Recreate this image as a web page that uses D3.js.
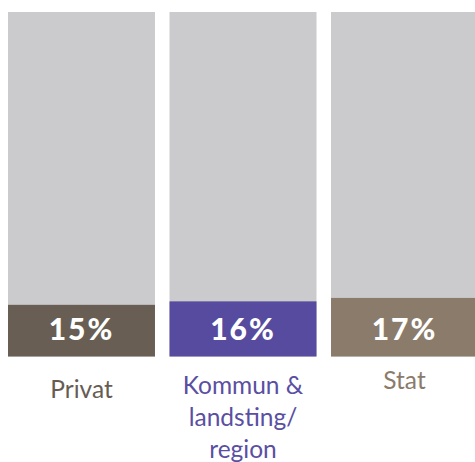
<!DOCTYPE html>
<html>
<head>
<meta charset="utf-8">
<script src="https://cdn.jsdelivr.net/npm/d3@7"></script>
<style>
  body { margin: 0; background: #fff; }
  svg { display: block; }
</style>
</head>
<body>
<div id="wrapper"></div>
<script>
const categories = ["Privat", "Kommun & landsting/ region", "Stat"]
const labelLines = [["Privat"], ["Kommun &", "landsting/", "region"], ["Stat"]]
const shares = [0.15, 0.16, 0.17]
const valueLabels = ["15%", "16%", "17%"]
const barColors = ["#685e54", "#564b9e", "#8b7b6b"]
const textColors = ["#665c53", "#5a4fa2", "#8b7b6b"]

let dimensions = {
  width: 475,
  height: 462,
  margin: { top: 12, right: -3, bottom: 105.5, left: 8 }
}
dimensions.boundedWidth = dimensions.width
  - dimensions.margin.left
  - dimensions.margin.right
dimensions.boundedHeight = dimensions.height
  - dimensions.margin.top
  - dimensions.margin.bottom

const wrapper = d3.select("#wrapper")
  .append("svg")
    .attr("width", dimensions.width)
    .attr("height", dimensions.height)
const bounds = wrapper.append("g")
  .attr("transform", `translate(${dimensions.margin.left},${dimensions.margin.top})`)

const xScale = d3.scaleBand()
  .domain(categories)
  .range([0, dimensions.boundedWidth])
  .paddingInner(0.09)
  .paddingOuter(0)

const yScale = d3.scaleLinear()
  .domain([0, 1])
  .range([dimensions.boundedHeight, 0])

const groups = bounds.selectAll("g.bar")
  .data(categories)
  .join("g")
    .attr("class", "bar")
    .attr("transform", d => `translate(${xScale(d)},0)`)

// full-height background column
groups.append("rect")
  .attr("y", yScale(1))
  .attr("width", xScale.bandwidth())
  .attr("height", yScale(0) - yScale(1))
  .attr("fill", "#cbcbcd")

groups.append("rect")
  .attr("y", (d, i) => yScale(shares[i]))
  .attr("width", xScale.bandwidth())
  .attr("height", (d, i) => yScale(0) - yScale(shares[i]))
  .attr("fill", (d, i) => barColors[i])

groups.append("text")
  .attr("x", xScale.bandwidth() / 2)
  .attr("y", dimensions.boundedHeight - 17)
  .attr("text-anchor", "middle")
  .attr("fill", "#fff")
  .style("font-family", "Lato, sans-serif")
  .style("font-weight", "900")
  .style("font-size", "30px")
  .style("letter-spacing", "2px")
  .text((d, i) => valueLabels[i])

// baseline of first label line, relative to the bar bottom
const labelTop = [41, 37, 32]
groups.append("text")
  .attr("text-anchor", "middle")
  .attr("fill", (d, i) => textColors[i])
  .style("font-family", "Lato, sans-serif")
  .style("font-size", "24.5px")
  .each(function (d, i) {
    d3.select(this).selectAll("tspan")
      .data(labelLines[i])
      .join("tspan")
        .attr("x", xScale.bandwidth() / 2)
        .attr("y", (l, j) => dimensions.boundedHeight + labelTop[i] + j * 32)
        .text(l => l)
  })
</script>
</body>
</html>
